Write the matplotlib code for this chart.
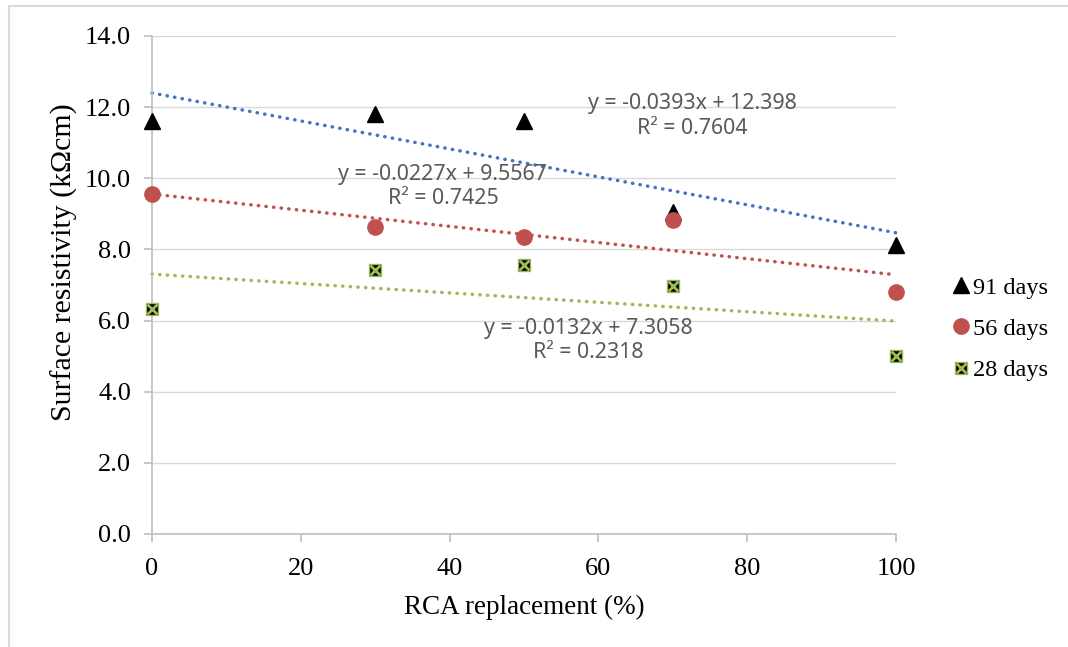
import matplotlib
matplotlib.use("Agg")
import matplotlib.pyplot as plt
from matplotlib.patches import Rectangle
from matplotlib.legend_handler import HandlerTuple

# data
rca = [0, 30, 50, 70, 100]
days91 = [11.6, 11.82, 11.6, 9.05, 8.12]
days56 = [9.56, 8.62, 8.36, 8.82, 6.8]
days28 = [6.32, 7.42, 7.57, 6.98, 5.0]

# trendline coefficients (slope, intercept) and R^2
fit91 = (-0.0393, 12.398, 0.7604)
fit56 = (-0.0227, 9.5567, 0.7425)
fit28 = (-0.0132, 7.3058, 0.2318)

serif = "Liberation Serif"
eqfont = "Noto Sans"
blue = "#4472C4"
red = "#C0504D"
green = "#9BBB59"

fig = plt.figure(figsize=(10.68, 6.47), dpi=100)
ax = fig.add_axes([152/1068, 1-534/647, (896-152)/1068, (534-36)/647])

# chart area frame
fig.patches.append(Rectangle((9/1068, -0.1), 1.2, 1-6/647+0.1, transform=fig.transFigure,
                             fill=False, edgecolor="#D9D9D9", lw=1.5))

ax.set_xlim(0, 100)
ax.set_ylim(0, 14)
ax.set_xticks(range(0, 101, 20))
ax.set_yticks(range(0, 15, 2))
ax.set_yticklabels([f"{v:.1f}" for v in range(0, 15, 2)])
ax.grid(axis="y", color="#D9D9D9", lw=1)
ax.set_axisbelow(True)
for s in ["top", "right"]:
    ax.spines[s].set_visible(False)
for s in ["left", "bottom"]:
    ax.spines[s].set_color("#BFBFBF")
    ax.spines[s].set_linewidth(1.2)
ax.tick_params(length=6, color="#BFBFBF", width=1.2, labelsize=19)
ax.tick_params(axis="y", pad=9)
ax.tick_params(axis="x", pad=11)
for lab in ax.get_xticklabels() + ax.get_yticklabels():
    lab.set_fontfamily(serif)
ax.set_xlabel("RCA replacement (%)", fontfamily=serif, fontsize=19.5, labelpad=11)
ax.set_ylabel("Surface resistivity (k\u03a9cm)", fontfamily=serif, fontsize=21.5)
ax.yaxis.set_label_coords(-0.1, 0.546)

# trendlines
dots = (0, (0.1, 2.1))
xs = [0, 100]
for fit, c in [(fit91, blue), (fit56, red), (fit28, green)]:
    ax.plot(xs, [fit[1] + fit[0]*x for x in xs], color=c, lw=2.5, ls=dots,
            dash_capstyle="round", zorder=2, clip_on=False)

# markers
h91, = ax.plot(rca, days91, ls="none", marker="^", ms=11, color="black", zorder=4, clip_on=False)
h56, = ax.plot(rca, days56, ls="none", marker="o", ms=11, color=red, zorder=4, clip_on=False)
h28a, = ax.plot(rca, days28, ls="none", marker="s", ms=8.5, mfc="black", mec=green, mew=1,
                zorder=4, clip_on=False)
h28b, = ax.plot(rca, days28, ls="none", marker="x", ms=7, mec=green, mew=2, zorder=5, clip_on=False)

# equations
def eq(fit):
    return f"y = {fit[0]:.4f}x + {fit[1]:g}\nR\u00b2 = {fit[2]:.4f}"

for fit, x, y in [(fit91, 72.6, 11.75), (fit56, 39.1, 9.78), (fit28, 58.6, 5.45)]:
    ax.text(x, y, eq(fit), ha="center", va="center", multialignment="center",
            fontfamily=eqfont, fontsize=15.4, color="#595959", linespacing=1.2, zorder=3)

fig.legend([h91, h56, (h28a, h28b)], ["91 days", "56 days", "28 days"],
           handler_map={tuple: HandlerTuple(ndivide=1, pad=0)},
           loc="center left", bbox_to_anchor=(940/1068, 1-329/647), frameon=False,
           prop={"family": serif, "size": 17.5}, handlelength=0.7, handletextpad=0.15,
           labelspacing=0.8, borderpad=0)

fig.savefig("out.png", dpi=100)
